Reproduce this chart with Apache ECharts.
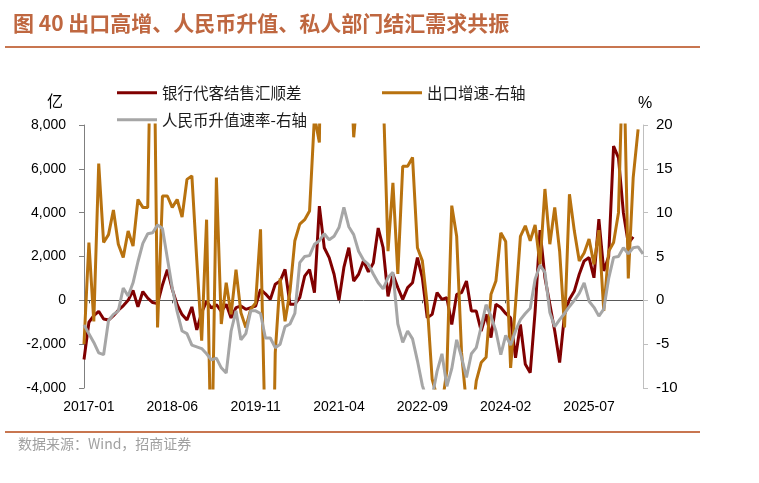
<!DOCTYPE html>
<html>
<head>
<meta charset="utf-8">
<script src="https://cdn.jsdelivr.net/npm/echarts@6/dist/echarts.min.js"></script>
<style>
  html, body { margin: 0; padding: 0; background: #fff; }
  #chart { width: 759px; height: 483px; }
</style>
</head>
<body>
<div id="chart"></div>
<script>
  // 月份：2016-12 ~ 2026-06
  const months = []
  for (let y = 2016; y <= 2026; y++) {
    for (let m = 1; m <= 12; m++) {
      if ((y === 2016 && m < 12) || (y === 2026 && m > 6)) continue
      months.push(y + '-' + (m < 10 ? '0' + m : m))
    }
  }
  const tickLabels = ['2017-01', '2018-06', '2019-11', '2021-04', '2022-09', '2024-02', '2025-07']

  // 银行代客结售汇顺差（亿元，左轴）
  const fxSurplus = [
    -2700,
    -1000, -700, -500, -850, -900, -700, -450, -250, 0, 450, -300, 400,
    100, -100, -150, 700, 1400, 500, -200, -650, -900, -300, -1350, -550,
    -50, -350, -200, -500, -180, -800, -330, -260, -410, -330, -260, 500,
    300, 45, 730, 880, 1410, -180, -180, 120, 1100, 1400, 350, 4300,
    2400, 1950, 1190, 0, 1500, 2400, 880, 1190, 1800, 1300, 1700, 3300,
    2400, 180, 1190, 580, 45, 580, 800, 1950, 1030, -800, -640, 350,
    45, 120, -1100, 270, 350, 880, -490, -490, -1400, -640, -1700, -180,
    -330, -600, -800, -2620, -1100, -2920, -3300, -500, 3200, 1030, -180, -1400,
    -2840, -640, 45, 430, 1190, 1800, 1950, 1030, 3700, 1340, 2000, 7040,
    6500, 4000, 2600, 2900
  ]
  // 出口增速（%，右轴）
  const exportYoy = [
    -5,
    6.6, -2.4, 15.6, 6.6, 7.5, 10.3, 6.4, 4.9, 7.9, 6.2, 11.5, 10.6,
    10.6, 44.5, -3.1, 11.9, 11.9, 10.6, 11.5, 9.5, 13.8, 14.2, 4.6, -4.6,
    9.2, -20.7, 14.0, -2.7, 2.0, -1.6, 3.5, -1.4, -3.1, -1.0, -0.3, 8.1,
    -17, -40, -6, 2.5, -2.4, 1, 6.8, 8.7, 9.2, 10.2, 21, 18,
    60, 150, 30, 32, 28, 32, 18.6, 25, 28, 27, 22, 21,
    24, 5.6, 13.4, 3, 15.3, 15.3, 16.3, 6, 4.5, -0.5, -9, -11,
    -12, -8, 10.8, 7.3, -6, -12, -14, -9.2, -7.1, -6.5, 0.7, 2.2,
    7.7, 6.7, -7.7, -0.5, 7.3, 8.5, 6.8, 8.6, 4.1, 12.7, 6.4, 10.6,
    5.6, -3.1, 12.1, 7.9, 4.5, 5.4, 7.0, 4.1, 8.0, -1.2, 5.6, 6.6,
    10, 30, 2.5, 14, 19.5
  ]
  // 人民币升值速率（%，右轴）
  const rmbAppr = [
    -2.8,
    -3.8, -4.8, -6.0, -6.2, -2.3, -1.6, -1.2, 1.4, 0.5, 2.0, 4.4, 6.5,
    7.6, 7.7, 8.6, 8.2, 4.8, 1.4, -1.3, -3.5, -3.8, -5.1, -5.3, -5.5,
    -6.1, -6.8, -6.6, -7.7, -8.3, -3.5, -1.2, -4.5, -3.8, -1.2, -1.2, -1.5,
    -4.3, -4.3, -5.4, -5.0, -3.0, -2.7, -1.5, 4.3, 5.0, 5.1, 6.4, 6.8,
    7.6, 6.9, 7.3, 8.3, 10.6, 8.4, 7.5, 5.6, 4.6, 4.1, 3.0, 2.0,
    1.3, 2.6, 3.2, -2.7, -4.8, -3.5, -4.4, -6.9, -9.7, -11.5, -11, -8.1,
    -6.1, -9.8, -7.8, -4.5, -6.5, -8.8, -6.1, -5.4, -3.0, -0.5, -1.8, -3.5,
    -6.2, -4.0, -5.1, -3.5, -2.2, -1.5, -0.9, 2.4, 4.0, 3.2, -1.4, -3.0,
    -2.2, -1.5, -0.7, 0, 0.8, 2.0, -0.1, -0.8, -1.8, -1.0, 2.5, 4.9,
    5.0, 6.0, 5.3, 6.0, 6.1, 5.3
  ]

  const names = ['银行代客结售汇顺差', '出口增速-右轴', '人民币升值速率-右轴']
  const colors = ['#800000', '#B8720F', '#A6A6A6']

  const cjk = '"Noto Sans CJK SC", sans-serif'
  const num = '"Liberation Sans", Arial, sans-serif'

  const showLabel = (idx, val) => tickLabels.indexOf(val) > -1

  const chart = echarts.init(document.getElementById('chart'))
  const legendBase = {
    icon: 'rect',
    itemWidth: 40,
    itemHeight: 3,
    padding: 0,
    selectedMode: false,
    textStyle: { fontFamily: cjk, fontSize: 15.5, color: '#1a1a1a' },
  }
  const option = {
    animation: false,
    backgroundColor: '#fff',
    color: colors,
    title: {
      text: '图 40 出口高增、人民币升值、私人部门结汇需求共振',
      left: 8,
      top: 8,
      textStyle: { fontFamily: cjk, fontSize: 21, fontWeight: 'bold', color: '#BF6740' },
    },
    legend: [
      Object.assign({ data: [names[0]], left: 117, top: 85 }, legendBase),
      Object.assign({ data: [names[1]], left: 382, top: 85 }, legendBase),
      Object.assign({ data: [names[2]], left: 117, top: 112 }, legendBase),
    ],
    grid: { left: 84, right: 116, top: 125, bottom: 95 },
    xAxis: [
      {
        type: 'category',
        data: months,
        boundaryGap: false,
        position: 'bottom',
        axisLine: { show: false, onZero: false },
        axisTick: { show: false },
        axisLabel: {
          interval: showLabel,
          margin: 12,
          fontFamily: num,
          fontSize: 14,
          color: '#000',
        },
      },
      {
        type: 'category',
        data: months,
        boundaryGap: false,
        position: 'bottom',
        axisLine: { show: true, onZero: true, lineStyle: { color: '#595959', width: 1 } },
        axisTick: { show: true, interval: showLabel, length: 3, lineStyle: { color: '#595959' } },
        axisLabel: { show: false },
      },
    ],
    yAxis: [
      {
        type: 'value',
        min: -4000,
        max: 8000,
        interval: 2000,
        axisLine: { show: true, lineStyle: { color: '#7F7F7F' } },
        axisTick: { show: true, length: 5, lineStyle: { color: '#7F7F7F' } },
        splitLine: { show: false },
        axisLabel: {
          margin: 18,
          fontFamily: num,
          fontSize: 14,
          color: '#000',
          formatter: v => v.toLocaleString('en-US'),
        },
      },
      {
        type: 'value',
        min: -10,
        max: 20,
        interval: 5,
        position: 'right',
        axisLine: { show: true, lineStyle: { color: '#BFBFBF' } },
        axisTick: { show: true, length: 5, lineStyle: { color: '#BFBFBF' } },
        splitLine: { show: false },
        axisLabel: { margin: 13, fontFamily: num, fontSize: 15, color: '#000' },
      },
    ],
    graphic: [
      { type: 'rect', shape: { x: 5, y: 46, width: 695, height: 2 }, style: { fill: '#C87650' } },
      { type: 'rect', shape: { x: 5, y: 431, width: 695, height: 2 }, style: { fill: '#C87650' } },
      {
        type: 'text', left: 18, top: 437,
        style: { text: '数据来源：Wind，招商证券', fontFamily: cjk, fontSize: 14, fill: '#A0A0A0' },
      },
      {
        type: 'text', left: 47, top: 93,
        style: { text: '亿', fontFamily: cjk, fontSize: 16, fill: '#000' },
      },
      {
        type: 'text', left: 638, top: 96,
        style: { text: '%', fontFamily: num, fontSize: 16, fill: '#000' },
      },
    ],
    series: [
      {
        name: names[0], type: 'line', yAxisIndex: 0, data: fxSurplus,
        symbol: 'none', lineStyle: { width: 3, color: colors[0] },
      },
      {
        name: names[1], type: 'line', yAxisIndex: 1, data: exportYoy,
        symbol: 'none', lineStyle: { width: 3, color: colors[1] },
      },
      {
        name: names[2], type: 'line', yAxisIndex: 1, data: rmbAppr,
        symbol: 'none', lineStyle: { width: 3, color: colors[2] },
      },
    ],
  }
  chart.setOption(option)
</script>
</body>
</html>
